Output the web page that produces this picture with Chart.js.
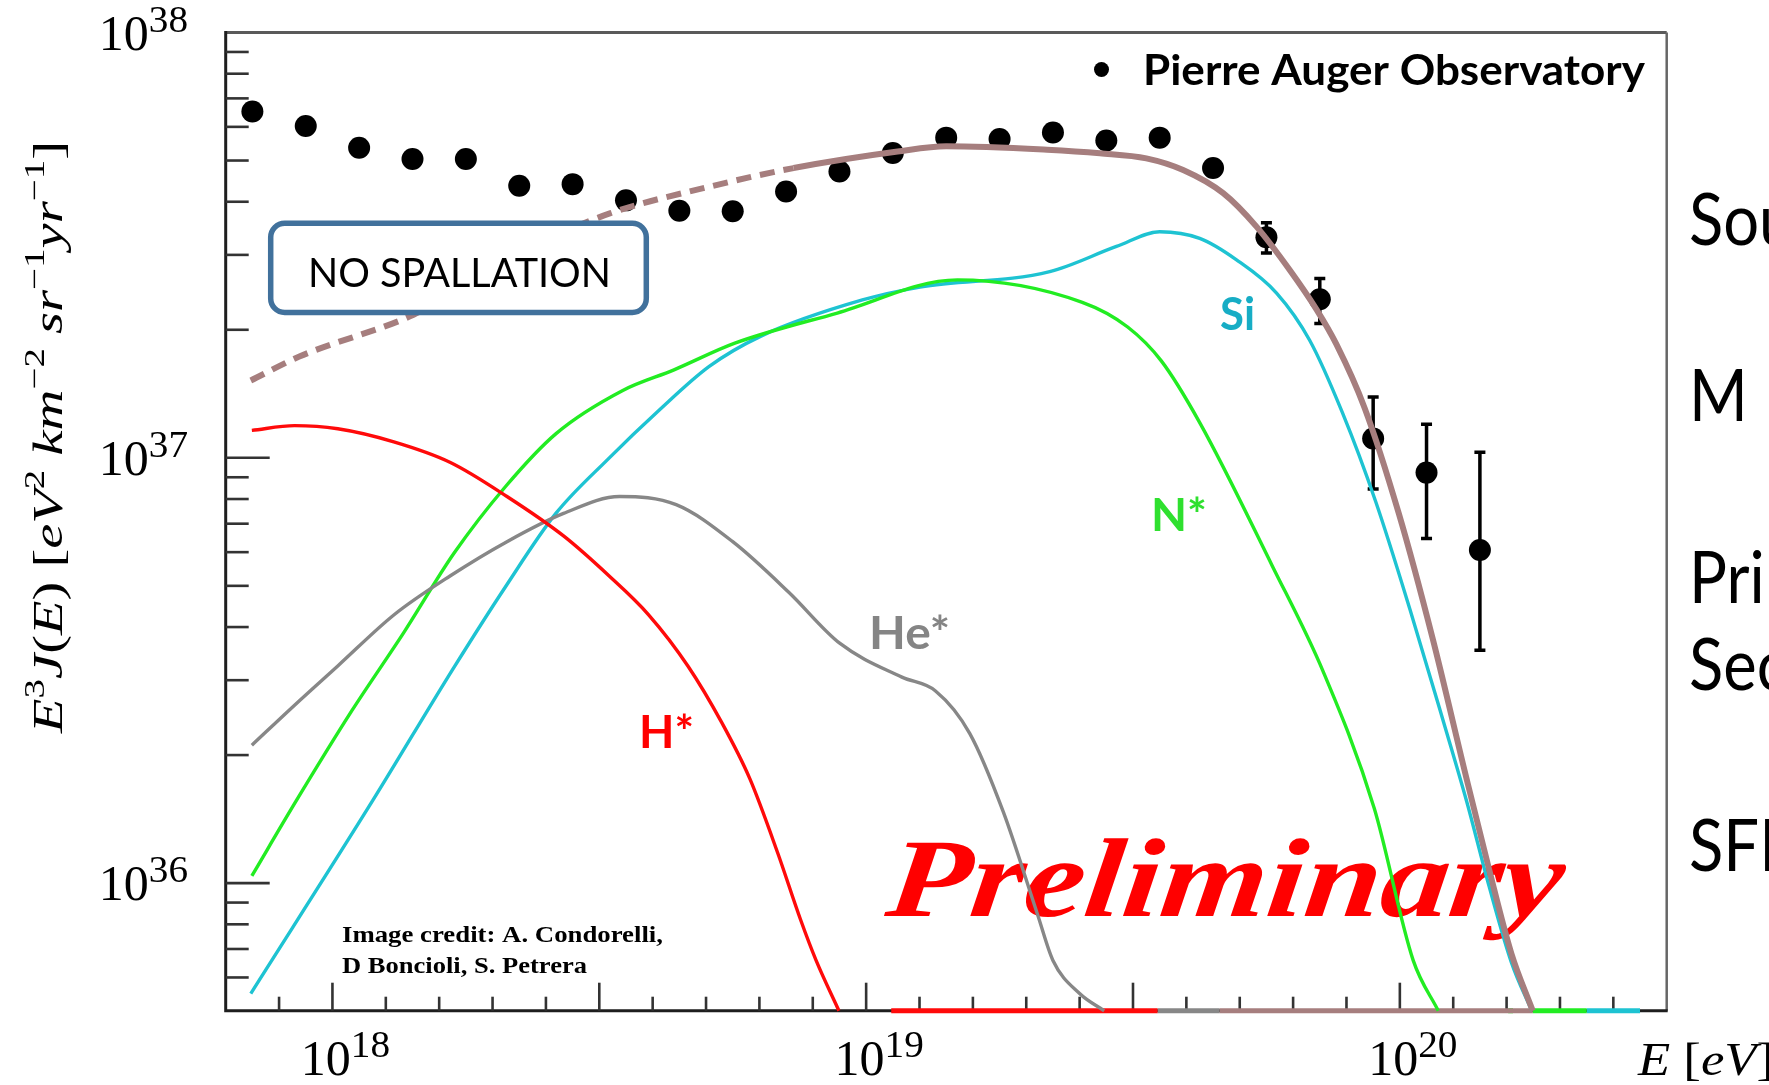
<!DOCTYPE html>
<html>
<head>
<meta charset="utf-8">
<title>UHECR spectrum – combined fit, no spallation</title>
<script src="https://cdn.jsdelivr.net/npm/chart.js@4.4.1/dist/chart.umd.min.js"></script>
<style>
  html, body { margin: 0; padding: 0; background: #fff; overflow: hidden; }
  canvas { display: block; }
</style>
</head>
<body>
<canvas id="spectrum" width="1769" height="1085"></canvas>
<script>
// ---------------------------------------------------------------------------
// Data: energies as log10(E/eV), fluxes as E^3 J(E) in eV^2 km^-2 sr^-1 yr^-1
// ---------------------------------------------------------------------------

// Pierre Auger Observatory combined spectrum
const augerLgE = [17.85, 17.95, 18.05, 18.15, 18.25, 18.35, 18.45, 18.55, 18.65, 18.75,
                  18.85, 18.95, 19.05, 19.15, 19.25, 19.35, 19.45, 19.55, 19.65, 19.75,
                  19.85, 19.95, 20.05, 20.15];
const augerFlux = [6.52e37, 6.03e37, 5.36e37, 5.04e37, 5.04e37, 4.36e37, 4.40e37, 4.03e37,
                   3.81e37, 3.80e37, 4.23e37, 4.71e37, 5.21e37, 5.66e37, 5.62e37, 5.82e37,
                   5.57e37, 5.66e37, 4.80e37, 3.30e37, 2.36e37, 1.11e37, 9.23e36, 6.07e36];
// statistical error bands (null where the bar is hidden by the marker)
const augerErrLow  = [null, null, null, null, null, null, null, null, null, null,
                      null, null, null, null, null, null, null, null, null, 3.03e37,
                      2.07e37, 8.45e36, 6.46e36, 3.53e36];
const augerErrHigh = [null, null, null, null, null, null, null, null, null, null,
                      null, null, null, null, null, null, null, null, null, 3.57e37,
                      2.64e37, 1.39e37, 1.20e37, 1.03e37];

// Propagated model components
const hLgE  = [17.849, 17.929, 18.010, 18.115, 18.221, 18.327, 18.433, 18.518, 18.592, 18.666,
               18.729, 18.782, 18.834, 18.877, 18.906, 18.949];
const hFlux = [1.16e37, 1.19e37, 1.17e37, 1.09e37, 9.75e36, 8.11e36, 6.55e36, 5.28e36, 4.28e36,
               3.24e36, 2.39e36, 1.76e36, 1.18e36, 8.21e35, 6.59e35, 5.01e35];

const heLgE  = [17.849, 17.929, 18.010, 18.115, 18.221, 18.327, 18.433, 18.538, 18.644, 18.750,
                18.855, 18.951, 19.067, 19.130, 19.194, 19.257, 19.321, 19.350, 19.400, 19.446];
const heFlux = [2.11e36, 2.62e36, 3.24e36, 4.27e36, 5.28e36, 6.35e36, 7.40e36, 8.11e36, 7.76e36,
                6.35e36, 4.83e36, 3.66e36, 3.05e36, 2.83e36, 2.25e36, 1.47e36, 8.45e35, 6.58e35,
                5.50e35, 5.01e35];

const nLgE  = [17.849, 17.932, 18.037, 18.133, 18.228, 18.324, 18.419, 18.544, 18.640, 18.754,
               18.946, 19.171, 19.405, 19.490, 19.553, 19.625, 19.761, 19.856, 19.952, 20.025,
               20.072];
const nFlux = [1.04e36, 1.56e36, 2.55e36, 3.87e36, 5.97e36, 8.55e36, 1.14e37, 1.44e37, 1.61e37,
               1.86e37, 2.19e37, 2.62e37, 2.32e37, 2.03e37, 1.69e37, 1.21e37, 5.57e36, 3.15e36,
               1.50e36, 6.58e35, 5.01e35];

const siLgE  = [17.847, 18.075, 18.228, 18.324, 18.419, 18.515, 18.611, 18.706, 18.802, 18.993,
                19.101, 19.344, 19.469, 19.550, 19.625, 19.694, 19.769, 19.831, 19.892, 19.955,
                20.019, 20.082, 20.125, 20.167, 20.209, 20.247];
const siFlux = [5.50e35, 1.56e36, 3.22e36, 4.97e36, 7.41e36, 9.89e36, 1.29e37, 1.64e37, 1.93e37,
                2.35e37, 2.52e37, 2.74e37, 3.14e37, 3.40e37, 3.28e37, 2.92e37, 2.44e37, 1.89e37,
                1.28e37, 7.87e36, 4.40e36, 2.39e36, 1.56e36, 9.85e35, 6.51e35, 5.01e35];

// Sum of all components (dashed below the fit threshold)
const totLgE  = [17.847, 17.938, 18.152, 18.300, 18.400, 18.521, 18.700, 18.864, 19.059, 19.150,
                 19.339, 19.438, 19.525, 19.594, 19.669, 19.731, 19.794, 19.844, 19.881, 19.934,
                 19.998, 20.061, 20.125, 20.167, 20.209, 20.249];
const totFlux = [1.52e37, 1.73e37, 2.17e37, 2.75e37, 3.24e37, 3.76e37, 4.32e37, 4.80e37, 5.25e37,
                 5.40e37, 5.30e37, 5.20e37, 5.06e37, 4.75e37, 4.19e37, 3.50e37, 2.76e37, 2.23e37,
                 1.85e37, 1.31e37, 7.40e36, 3.78e36, 1.76e36, 1.08e36, 6.83e35, 5.01e35];
const fitThresholdLgE = 18.864;

// Energy ranges where a component falls below the plotted range (drawn on the floor)
const underflowRanges = [
  { comp: 'H',   from: 19.047, to: 19.546 },
  { comp: 'He',  from: 19.546, to: 19.662 },
  { comp: 'Tot', from: 19.662, to: 20.249 },
  { comp: 'N',   from: 20.203, to: 20.212 },
  { comp: 'N',   from: 20.249, to: 20.350 },
  { comp: 'Si',  from: 20.350, to: 20.450 }
];

// Axis ranges and tick labels
const lgEMin = 17.8, lgEMax = 20.5;
const lgFMin = 35.7, lgFMax = 38.0;
const xTickDecades = [18, 19, 20];
const yTickDecades = [36, 37, 38];

// ---------------------------------------------------------------------------
const COL = {
  H: '#ff0a0a', He: '#878787', N: '#22ec22', Si: '#1ec3d2', Tot: '#a67e7e',
  siLabel: '#17adc5', nLabel: '#2fe02f', heLabel: '#858585', hLabel: '#ff0000'
};

const pts = (lgE, flux) => lgE.map((e, i) => ({ x: Math.pow(10, e), y: flux[i] }));

function curve(lgE, flux, color, width, extra) {
  return Object.assign({
    data: pts(lgE, flux),
    showLine: true,
    borderColor: color,
    borderWidth: width,
    pointRadius: 0,
    cubicInterpolationMode: 'monotone',
    clip: 8,
    order: 1
  }, extra || {});
}

const floorY = Math.pow(10, lgFMin);
const floorSets = underflowRanges.map(r => ({
  data: [{ x: Math.pow(10, r.from), y: floorY }, { x: Math.pow(10, r.to), y: floorY }],
  showLine: true,
  borderColor: COL[r.comp],
  borderWidth: 5,
  pointRadius: 0,
  clip: 8,
  order: 2
}));

const datasets = [
  {
    data: pts(augerLgE, augerFlux),
    showLine: false,
    pointRadius: 11,
    pointBackgroundColor: '#000',
    pointBorderWidth: 0,
    order: 10
  },
  ...floorSets,
  curve(hLgE, hFlux, COL.H, 3.4),
  curve(heLgE, heFlux, COL.He, 3.4),
  curve(nLgE, nFlux, COL.N, 3.4),
  curve(siLgE, siFlux, COL.Si, 3.4),
  curve(totLgE, totFlux, COL.Tot, 6, {
    order: 0,
    segment: {
      borderDash: ctx => (ctx.p1.parsed.x <= Math.pow(10, fitThresholdLgE) + 1 ? [15, 9] : [])
    }
  })
];

// ---------------------------------------------------------------------------
// Drawing helpers
// ---------------------------------------------------------------------------
function fitText(ctx, text, x, y, font, width, color, skew) {
  ctx.save();
  ctx.font = font;
  ctx.fillStyle = color || '#000';
  ctx.textAlign = 'left';
  ctx.textBaseline = 'alphabetic';
  const w = ctx.measureText(text).width;
  ctx.translate(x, y);
  if (skew) ctx.transform(1, 0, -skew, 1, 0, 0);
  ctx.scale(width / w, 1);
  ctx.fillText(text, 0, 0);
  ctx.restore();
}

// power-of-ten label: "10" plus raised exponent
function powLabel(ctx, exp, anchorX, baseY, align) {
  const baseFont = '50px "Liberation Serif", "DejaVu Serif", serif';
  const supFont = '37px "Liberation Serif", "DejaVu Serif", serif';
  ctx.save();
  ctx.fillStyle = '#000';
  ctx.textBaseline = 'alphabetic';
  ctx.textAlign = 'left';
  ctx.font = baseFont;
  const w1 = ctx.measureText('10').width;
  ctx.font = supFont;
  const w2 = ctx.measureText(String(exp)).width;
  const total = w1 + w2 * 1.06;
  const x0 = align === 'center' ? anchorX - total / 2 : anchorX - total;
  ctx.font = baseFont;
  ctx.fillText('10', x0, baseY);
  ctx.font = supFont;
  ctx.save();
  ctx.translate(x0 + w1, baseY - 18);
  ctx.scale(1.06, 1);
  ctx.fillText(String(exp), 0, 0);
  ctx.restore();
  ctx.restore();
}

// mixed math-style text run (italic letters, upright punctuation, superscripts)
function mathRun(ctx, runs, size) {
  const it = 'italic ' + size + 'px "Liberation Serif", "DejaVu Serif", serif';
  const up = size + 'px "Liberation Serif", "DejaVu Serif", serif';
  const supIt = 'italic ' + Math.round(size * 0.7) + 'px "Liberation Serif", "DejaVu Serif", serif';
  const supUp = Math.round(size * 0.7) + 'px "Liberation Serif", "DejaVu Serif", serif';
  return runs.map(([t, sup, ital]) => {
    ctx.font = sup ? (ital ? supIt : supUp) : (ital ? it : up);
    return { t, sup, font: ctx.font, w: ctx.measureText(t).width };
  });
}
function drawRun(ctx, items, x, y, width, size) {
  const total = items.reduce((s, r) => s + r.w, 0);
  ctx.save();
  ctx.translate(x, y);
  ctx.scale(width / total, 1);
  let cx = 0;
  for (const r of items) {
    ctx.font = r.font;
    ctx.fillText(r.t, cx, r.sup ? -size * 0.42 : 0);
    cx += r.w;
  }
  ctx.restore();
}

// ---------------------------------------------------------------------------
// Plugin: frame, ticks, labels and annotations
// ---------------------------------------------------------------------------
const decorations = {
  id: 'decorations',
  beforeDatasetsDraw(chart) {
    const { ctx, chartArea: a, scales: { x, y } } = chart;

    // watermark under the curves
    fitText(ctx, 'Preliminary', 884, 916,
      'italic bold 112px "Liberation Serif", "DejaVu Serif", serif', 676, '#ff0000', 0.12);

    // frame
    ctx.save();
    ctx.lineCap = 'butt';
    ctx.strokeStyle = '#5a5a5a';
    ctx.lineWidth = 3;
    ctx.beginPath(); ctx.moveTo(a.left, a.top); ctx.lineTo(a.right, a.top); ctx.stroke();
    ctx.lineWidth = 2.5;
    ctx.strokeStyle = '#666';
    ctx.beginPath(); ctx.moveTo(a.right, a.top); ctx.lineTo(a.right, a.bottom); ctx.stroke();
    ctx.strokeStyle = '#1e1e1e';
    ctx.lineWidth = 3;
    ctx.beginPath();
    ctx.moveTo(a.left, a.top - 1.5); ctx.lineTo(a.left, a.bottom); ctx.lineTo(a.right + 1, a.bottom);
    ctx.stroke();

    // y ticks (inside, pointing right)
    ctx.lineWidth = 2.6;
    ctx.strokeStyle = '#333';
    for (let d = Math.floor(lgFMin); d < lgFMax; d++) {
      for (let m = 1; m <= 9; m++) {
        const v = m * Math.pow(10, d);
        const lg = Math.log10(v);
        if (lg < lgFMin + 0.005 || lg > lgFMax - 0.005) continue;
        const py = y.getPixelForValue(v);
        const len = m === 1 ? 44 : 23;
        ctx.beginPath(); ctx.moveTo(a.left, py); ctx.lineTo(a.left + len, py); ctx.stroke();
      }
    }
    // x ticks every 0.1 decade (inside, pointing up)
    for (let k = Math.round(lgEMin * 10) + 1; k < Math.round(lgEMax * 10); k++) {
      const px = x.getPixelForValue(Math.pow(10, k / 10));
      const len = k % 5 === 0 ? 28 : 14;
      ctx.beginPath(); ctx.moveTo(px, a.bottom); ctx.lineTo(px, a.bottom - len); ctx.stroke();
    }
    ctx.restore();

    // error bars under the markers
    ctx.save();
    ctx.strokeStyle = '#000';
    ctx.lineWidth = 3.5;
    augerLgE.forEach((e, i) => {
      if (augerErrLow[i] == null) return;
      const px = x.getPixelForValue(Math.pow(10, e));
      const y1 = y.getPixelForValue(augerErrLow[i]);
      const y2 = y.getPixelForValue(augerErrHigh[i]);
      ctx.beginPath();
      ctx.moveTo(px, y1); ctx.lineTo(px, y2);
      ctx.moveTo(px - 5.5, y1); ctx.lineTo(px + 5.5, y1);
      ctx.moveTo(px - 5.5, y2); ctx.lineTo(px + 5.5, y2);
      ctx.stroke();
    });
    ctx.restore();
  },
  afterDatasetsDraw(chart) {
    const { ctx, chartArea: a, scales: { x, y } } = chart;

    // tick labels
    xTickDecades.forEach(d => powLabel(ctx, d, x.getPixelForValue(Math.pow(10, d)) + 13, a.bottom + 64, 'center'));
    yTickDecades.forEach(d => powLabel(ctx, d, 188, y.getPixelForValue(Math.pow(10, d)) + 17, 'right'));

    // axis titles
    ctx.save();
    ctx.fillStyle = '#000';
    const ySize = 42;
    const yItems = mathRun(ctx, [
      ['E', 0, 1], ['3', 1, 0], ['J', 0, 1], ['(', 0, 0], ['E', 0, 1], [')', 0, 0],
      [' [', 0, 0], ['eV', 0, 1], ['2', 1, 0], [' km', 0, 1], ['\u22122', 1, 0],
      [' sr', 0, 1], ['\u22121', 1, 0], ['yr', 0, 1], ['\u22121', 1, 0], [']', 0, 0]
    ], ySize);
    ctx.translate(62, 733);
    ctx.rotate(-Math.PI / 2);
    drawRun(ctx, yItems, 0, 0, 592, ySize);
    ctx.restore();

    ctx.save();
    ctx.fillStyle = '#000';
    const xItems = mathRun(ctx, [['E', 0, 1], [' [', 0, 0], ['eV', 0, 1], [']', 0, 0]], 46);
    drawRun(ctx, xItems, 1638, 1075, 136, 46);
    ctx.restore();

    // legend
    ctx.save();
    ctx.fillStyle = '#000';
    ctx.beginPath(); ctx.arc(1101.5, 69.5, 7.5, 0, Math.PI * 2); ctx.fill();
    ctx.restore();
    fitText(ctx, 'Pierre Auger Observatory', 1143, 85, 'bold 42px Lato, "Open Sans", sans-serif', 502, '#000');

    // annotation box
    ctx.save();
    ctx.beginPath();
    ctx.roundRect(270.7, 223.3, 375.6, 89.2, 14);
    ctx.fillStyle = '#fff';
    ctx.fill();
    ctx.lineWidth = 5.5;
    ctx.strokeStyle = '#41719c';
    ctx.stroke();
    ctx.restore();
    fitText(ctx, 'NO SPALLATION', 308, 287, '40px Lato, "Open Sans", sans-serif', 303, '#000');

    // component labels
    const lf = 'bold 46px Lato, "Open Sans", sans-serif';
    fitText(ctx, 'Si', 1220, 330, lf, 35, COL.siLabel);
    fitText(ctx, 'N*', 1151, 531, lf, 56, COL.nLabel);
    fitText(ctx, 'He*', 869, 649, lf, 81, COL.heLabel);
    fitText(ctx, 'H*', 639, 748, lf, 55, COL.hLabel);

    // credits
    const cf = 'bold 23px "Liberation Serif", "DejaVu Serif", serif';
    fitText(ctx, 'Image credit: A. Condorelli,', 342, 942, cf, 321, '#000');
    fitText(ctx, 'D Boncioli, S. Petrera', 342, 973, cf, 245, '#000');

    // side panel text (runs past the edge)
    ctx.save();
    ctx.fillStyle = '#000';
    ctx.font = '72px Lato, "Open Sans", sans-serif';
    const side = [['Source', 245], ['M', 421], ['Primary', 603], ['Secondary', 690], ['SFR', 871]];
    side.forEach(([t, by]) => {
      ctx.save();
      ctx.translate(1689, by);
      ctx.scale(0.88, 1);
      ctx.fillText(t, 0, 0);
      ctx.restore();
    });
    ctx.restore();
  }
};

new Chart(document.getElementById('spectrum'), {
  type: 'scatter',
  data: { datasets },
  options: {
    responsive: false,
    animation: false,
    events: [],
    layout: { padding: { left: 225.7, right: 102.3, top: 32.5, bottom: 74.3 } },
    scales: {
      x: { type: 'logarithmic', min: Math.pow(10, lgEMin), max: Math.pow(10, lgEMax), display: false },
      y: { type: 'logarithmic', min: Math.pow(10, lgFMin), max: Math.pow(10, lgFMax), display: false }
    },
    plugins: { legend: { display: false }, tooltip: { enabled: false } }
  },
  plugins: [decorations]
});
</script>
</body>
</html>
